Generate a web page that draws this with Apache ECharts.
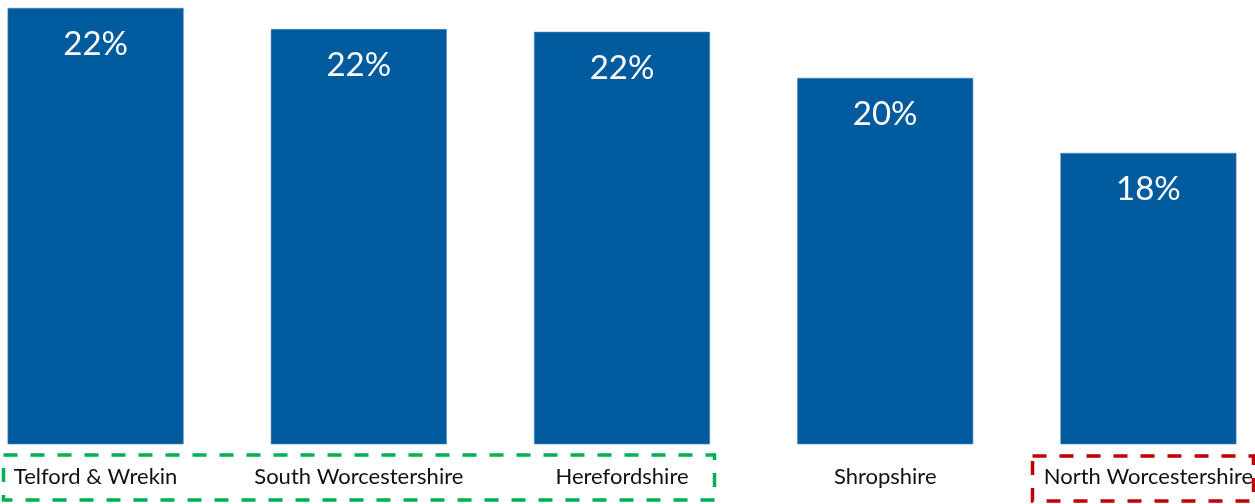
<!DOCTYPE html>
<html>
<head>
<meta charset="utf-8">
<script src="https://cdn.jsdelivr.net/npm/echarts@6/dist/echarts.min.js"></script>
<style>
html,body{margin:0;padding:0;background:#fff;overflow:hidden;width:1255px;height:504px;}
#c{width:1316px;height:504px;margin-left:-36px;}
</style>
</head>
<body>
<div id="c"></div>
<script>
const categories = ['Telford & Wrekin', 'South Worcestershire', 'Herefordshire', 'Shropshire', 'North Worcestershire'];
const values = [22.16, 21.62, 21.55, 20.37, 18.45];

const OFF = 36; // container shifted left by this many px
const chart = echarts.init(document.getElementById('c'), null, {renderer: 'canvas'});
const font = 'Lato, "Open Sans", "Liberation Sans", sans-serif';
chart.setOption({
  animation: false,
  grid: {left: 0, right: 0, top: 0, bottom: 60, containLabel: false},
  xAxis: {
    type: 'category',
    data: categories,
    axisLine: {show: false},
    axisTick: {show: false},
    axisLabel: {color: '#111', fontSize: 22, fontFamily: font, margin: 22, interval: 0}
  },
  yAxis: {
    type: 'value',
    min: 11,
    max: 22.364,
    show: false,
    splitLine: {show: false}
  },
  series: [{
    type: 'bar',
    data: values,
    barWidth: 176,
    itemStyle: {color: '#005A9E', borderColor: '#4a86bd', borderWidth: 0.6},
    label: {
      show: true,
      position: 'insideTop',
      distance: 20,
      color: '#fff',
      fontSize: 33,
      fontFamily: font,
      formatter: p => Math.round(p.value) + '%'
    }
  }],
  graphic: [
    {type: 'rect', shape: {x: 3.5 + OFF, y: 455, width: 711, height: 45},
     style: {fill: 'none', stroke: '#00B050', lineWidth: 3.5, lineDash: [14, 13]}},
    {type: 'rect', shape: {x: 1032.5 + OFF, y: 456, width: 221, height: 45},
     style: {fill: 'none', stroke: '#C00000', lineWidth: 3.5, lineDash: [14, 13]}}
  ]
});
</script>
</body>
</html>
